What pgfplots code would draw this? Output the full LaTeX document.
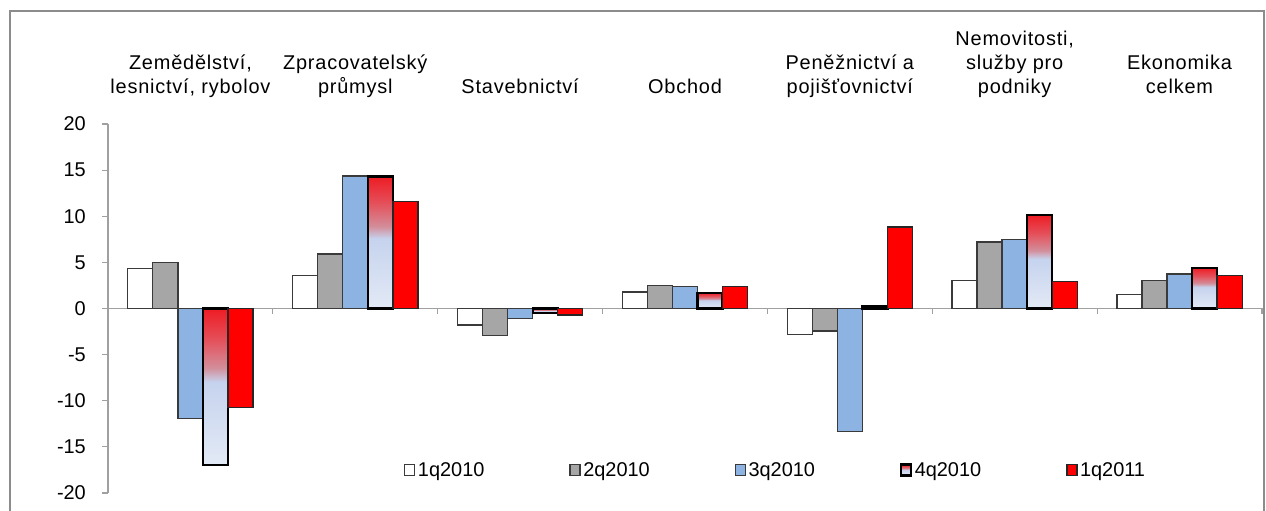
\documentclass[border=0pt]{standalone}
\usepackage{pgfplots}
\pgfplotsset{compat=1.18}
\usepackage{fontspec}
\setmainfont{Liberation Sans}
\newfontfamily\lblfont[LetterSpace=4]{Liberation Sans}
\definecolor{cA}{HTML}{FFFFFF}
\definecolor{cB}{HTML}{A6A6A6}
\definecolor{cC}{HTML}{8DB3E2}
\definecolor{cE}{HTML}{FF0000}
\definecolor{edge}{HTML}{3A3A3A}
\definecolor{axgray}{HTML}{A0A0A0}
\definecolor{framegray}{HTML}{8C8C8C}
\definecolor{g0}{HTML}{E3EAF6}
\definecolor{g1}{HTML}{C6D3EE}
\definecolor{g2}{HTML}{D38E9B}
\definecolor{g3}{HTML}{E4505A}
\definecolor{g4}{HTML}{EE1C24}
\pgfdeclareverticalshading{qfour}{100bp}{color(0bp)=(g0); color(25bp)=(g0); color(51.5bp)=(g1); color(56bp)=(g2); color(65bp)=(g3); color(75bp)=(g4); color(100bp)=(g4)}
\newcommand{\fsz}{\fontsize{20}{24}\selectfont}
\begin{document}
\begin{tikzpicture}
\useasboundingbox (0bp,0bp) rectangle (1266bp,511bp);
\begin{axis}[
  at={(108bp,18bp)}, anchor=south west,
  scale only axis, width=1154bp, height=369bp,
  xmin=-0.5, xmax=6.5, ymin=-20, ymax=20,
  axis y line*=left, axis x line*=top,
  x axis line style={draw=none},
  y axis line style={draw=axgray, line width=1.2bp},
  xtick={0,...,6}, xtick style={draw=none},
  xticklabels={{Zemědělství,\\lesnictví, rybolov\strut},{Zpracovatelský\\průmysl\strut},{Stavebnictví\strut},{Obchod\strut},{Peněžnictví a\\pojišťovnictví\strut},{Nemovitosti,\\služby pro\\podniky\strut},{Ekonomika\\celkem\strut}},
  xticklabel style={anchor=south, align=center, font=\lblfont\fsz, inner sep=0pt, yshift=17bp},
  ytick={-20,-15,...,20},
  ytick style={draw=axgray, line width=1.2bp},
  tick align=outside, major tick length=6bp,
  yticklabel style={font=\fsz, inner sep=0pt, xshift=-16bp},
  /pgf/number format/assume math mode=true,
  ybar, bar width=0.152,
  legend columns=5,
  legend style={at={(0.2565,0.0623)}, anchor=west, draw=none, fill=none, inner sep=0pt,
    font=\fsz, nodes={inner sep=2.5bp},
    /tikz/every even column/.append style={column sep=82.5bp}},
  sqleg/.style={legend image code/.code={\draw[##1] (0bp,-5.5bp) rectangle (10bp,5.5bp);}},
  qbar/.style={bar shift=0.152, shading=qfour, draw=black, line width=2.2bp, sqleg},
  clip=false,
]
\draw[axgray, line width=1.2bp] (axis cs:-0.5,0) -- (axis cs:6.5,0);
\pgfplotsinvokeforeach{0.5,1.5,2.5,3.5,4.5,5.5,6.5}{
  \draw[axgray, line width=1.2bp] (axis cs:#1,0) -- (axis cs:#1,-0.65);
}
\addplot[bar shift=-0.304, fill=cA, draw=edge, line width=1.3bp, sqleg] coordinates {
  (0,4.3) (1,3.6) (2,-1.8) (3,1.8) (4,-2.85) (5,3.05) (6,1.55)};
\addlegendentry{1q2010}
\addplot[bar shift=-0.152, fill=cB, draw=edge, line width=1.3bp, sqleg] coordinates {
  (0,5.0) (1,5.9) (2,-2.9) (3,2.5) (4,-2.45) (5,7.2) (6,3.0)};
\addlegendentry{2q2010}
\addplot[bar shift=0, fill=cC, draw=edge, line width=1.3bp, sqleg] coordinates {
  (0,-11.9) (1,14.35) (2,-1.1) (3,2.35) (4,-13.3) (5,7.45) (6,3.75)};
\addlegendentry{3q2010}
% 4q2010: one plot per bar so that each bar gets its own gradient
\addplot[qbar] coordinates {(0,-16.95)};
\addlegendentry{4q2010}
\addplot[qbar, forget plot] coordinates {(1,14.3)};
\addplot[qbar, forget plot] coordinates {(2,-0.5)};
\addplot[qbar, forget plot] coordinates {(3,1.7)};
\addplot[qbar, forget plot] coordinates {(4,0.25)};
\addplot[qbar, forget plot] coordinates {(5,10.15)};
\addplot[qbar, forget plot] coordinates {(6,4.4)};
\addplot[bar shift=0.304, fill=cE, draw=black!85, line width=1.3bp, sqleg] coordinates {
  (0,-10.7) (1,11.6) (2,-0.7) (3,2.35) (4,8.85) (5,2.9) (6,3.6)};
\addlegendentry{1q2011}
\end{axis}
\draw[framegray, line width=2bp] (10bp,-30bp) rectangle (1264bp,500bp);
\end{tikzpicture}
\end{document}
